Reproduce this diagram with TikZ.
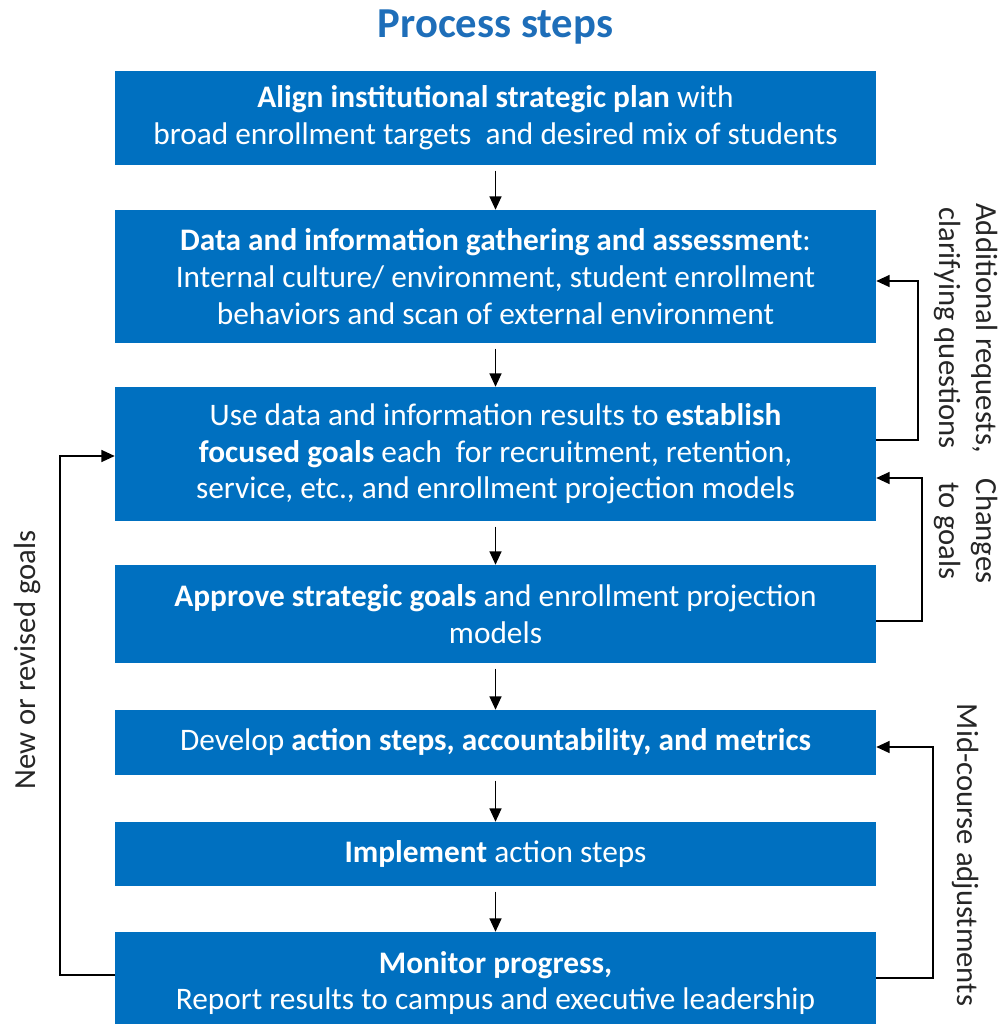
\documentclass[tikz,border=0pt]{standalone}
\usepackage{fontspec}
\setmainfont{Carlito}
\usepackage{tikz}
\usetikzlibrary{arrows.meta}
\definecolor{stepblue}{RGB}{0,112,192}
\definecolor{titleblue}{RGB}{30,110,185}
\tikzset{
    stepbox/.style={rectangle, fill=stepblue, text=white, align=center,
        minimum width=570.75pt, inner sep=0pt, font=\fontsize{23.5}{27.5}\selectfont},
    flowarrow/.style={line width=1pt, -{Triangle[length=10pt,width=9pt]}, shorten <=4pt},
    looparrow/.style={line width=1pt, -{Triangle[length=10pt,width=9pt]}},
    sidelabel/.style={align=center, text=black!85, font=\fontsize{23}{27.5}\selectfont}
}
\begin{document}
\begin{tikzpicture}[x=0.75pt, y=-0.75pt]
    \useasboundingbox (0,0) rectangle (998,1024);
    \node[text=titleblue, font=\fontsize{32}{36}\selectfont\bfseries] (title) at (495.5,27) {Process steps};
    \node[stepbox, minimum height=70.5pt] (align) at (495.5,118)
        {\textbf{Align institutional strategic plan} with\\broad enrollment targets\ \ and desired mix of students};
    \node[stepbox, minimum height=99.75pt] (gather) at (495.5,276.5)
        {\textbf{Data and information gathering and assessment}:\\Internal culture/ environment, student enrollment\\behaviors and scan of external environment};
    \node[stepbox, minimum height=100.5pt] (establish) at (495.5,454)
        {Use data and information results to \textbf{establish}\\\textbf{focused goals} each\ \ for recruitment, retention,\\service, etc., and enrollment projection models};
    \node[stepbox, minimum height=73.5pt] (approve) at (495.5,614)
        {\textbf{Approve strategic goals} and enrollment projection\\models};
    \node[stepbox, minimum height=48.75pt] (develop) at (495.5,742.5)
        {Develop \textbf{action steps, accountability, and metrics}};
    \node[stepbox, minimum height=48pt] (implement) at (495.5,854)
        {\textbf{Implement} action steps};
    \node[stepbox, minimum height=76.5pt] (monitor) at (495.5,983)
        {\textbf{Monitor progress,}\\Report results to campus and executive leadership};
    % main flow
    \foreach \a/\b in {align/gather, gather/establish, establish/approve, approve/develop, develop/implement, implement/monitor}
        \draw[flowarrow] (\a.south) -- (\b.north);
    % feedback loops
    \draw[looparrow] (establish.east |- 0,440) -- (918,440) |- (gather.east |- 0,281);
    \draw[looparrow] (approve.east |- 0,621) -- (922,621) |- (establish.east |- 0,478);
    \draw[looparrow] (monitor.east |- 0,978) -- (933,978) |- (develop.east |- 0,747);
    \draw[looparrow] (monitor.west |- 0,975) -- (60,975) |- (establish.west |- 0,456);
    \node[sidelabel, rotate=-90] (requests) at (966,328) {Additional requests,\\clarifying questions};
    \node[sidelabel, rotate=-90] (changes) at (966,531) {Changes\\to goals};
    \node[sidelabel, rotate=-90] (midcourse) at (966,855) {Mid-course adjustments};
    \node[sidelabel, rotate=90] (revised) at (27,660) {New or revised goals};
\end{tikzpicture}
\end{document}
